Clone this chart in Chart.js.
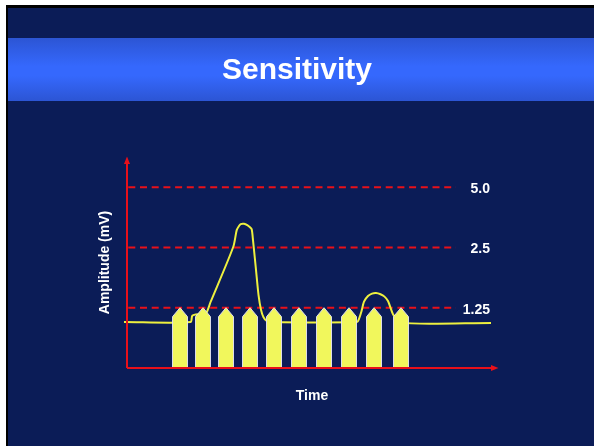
<!DOCTYPE html>
<html>
<head>
<meta charset="utf-8">
<script src="https://cdn.jsdelivr.net/npm/chart.js@4/dist/chart.umd.min.js"></script>
<style>
  html, body { margin: 0; padding: 0; background: #ffffff; }
  #c { display: block; }
</style>
</head>
<body>
<canvas id="c" width="594" height="446"></canvas>
<script>
// Stimulus pulses: time of each pulse and its peak amplitude (mV)
const pulseTimes = [53, 76, 99, 123, 147, 172, 197, 222, 247, 274];
const pulseAmplitudes = [1.25, 1.25, 1.25, 1.25, 1.25, 1.25, 1.25, 1.25, 1.25, 1.25];

// Sensed signal trace: time and amplitude (mV)
const signalTimes = [-3, 63.5, 65.3, 71, 78.5, 83.7, 106.3, 109.7, 112, 113.7, 117, 120.3, 123, 124.7,
  126, 129, 131.5, 134, 136.5, 140, 145, 230, 232, 234.5, 237, 241, 245, 249, 253.5, 257.5, 261, 264,
  266, 273, 364];
const signalValues = [1.06, 1.06, 1.14, 1.16, 1.16, 1.34, 2.52, 3.05, 3.2, 3.27, 3.28, 3.23, 3.15, 3.08,
  2.72, 1.93, 1.45, 1.22, 1.12, 1.07, 1.06, 1.06, 1.10, 1.20, 1.34, 1.43, 1.47, 1.48, 1.46, 1.42, 1.35, 1.23,
  1.16, 1.05, 1.05];

// Sensitivity thresholds (mV) and their labels
const thresholdValues = [5.0, 2.5, 1.25];
const thresholdLabels = ['5.0', '2.5', '1.25'];
const thresholdStart = 1.3;
const thresholdEnd = 329;

// Axis ranges
const timeMin = 0, timeMax = 370;
const ampMin = 0.625, ampMax = 7.071;

const FONT = "'Liberation Sans', Arial, Helvetica, sans-serif";
const NAVY = '#0b1c57';
const RED = '#e8101a';
const PULSE_FILL = '#f1f75c';
const TRACE = '#eef03e';

const backdrop = {
  id: 'backdrop',
  beforeDraw(chart) {
    const ctx = chart.ctx, w = chart.width, h = chart.height;
    ctx.save();
    ctx.fillStyle = '#ffffff';
    ctx.fillRect(0, 0, w, h);
    ctx.fillStyle = '#000000';
    ctx.fillRect(6, 5, w - 6, h - 5);
    ctx.fillStyle = NAVY;
    ctx.fillRect(8, 8, w - 8, h - 8);
    const g = ctx.createLinearGradient(0, 38, 0, 101);
    g.addColorStop(0, '#2c55d4');
    g.addColorStop(0.45, '#3568fd');
    g.addColorStop(0.6, '#3568fd');
    g.addColorStop(1, '#2c55d4');
    ctx.fillStyle = g;
    ctx.fillRect(8, 38, w - 8, 63);
    ctx.restore();
  }
};

const pulseShapes = {
  id: 'pulseShapes',
  afterDatasetsDraw(chart) {
    const ctx = chart.ctx;
    const meta = chart.getDatasetMeta(0);
    ctx.save();
    ctx.fillStyle = PULSE_FILL;
    ctx.strokeStyle = 'rgba(225,225,240,0.95)';
    ctx.lineWidth = 1;
    meta.data.forEach(bar => {
      const p = bar.getProps(['x', 'y', 'base', 'width'], true);
      const hw = p.width / 2, shoulder = 9;
      ctx.beginPath();
      ctx.moveTo(p.x - hw, p.base);
      ctx.lineTo(p.x - hw, p.y + shoulder);
      ctx.lineTo(p.x, p.y);
      ctx.lineTo(p.x + hw, p.y + shoulder);
      ctx.lineTo(p.x + hw, p.base);
      ctx.closePath();
      ctx.fill();
      ctx.stroke();
    });
    ctx.restore();
  },
  afterDraw(chart) {
    const ctx = chart.ctx, a = chart.chartArea;
    const ys = chart.scales.y;
    ctx.save();
    // axis lines with arrow heads
    ctx.strokeStyle = RED;
    ctx.fillStyle = RED;
    ctx.lineWidth = 2;
    ctx.beginPath();
    ctx.moveTo(a.left, a.bottom);
    ctx.lineTo(a.right - 4, a.bottom);
    ctx.moveTo(a.left, a.bottom);
    ctx.lineTo(a.left, a.top + 4);
    ctx.stroke();
    ctx.beginPath();
    ctx.moveTo(a.left, a.top - 0.5);
    ctx.lineTo(a.left - 3, a.top + 7);
    ctx.lineTo(a.left + 3, a.top + 7);
    ctx.closePath();
    ctx.fill();
    ctx.beginPath();
    ctx.moveTo(a.right + 1.5, a.bottom);
    ctx.lineTo(a.right - 6, a.bottom - 3);
    ctx.lineTo(a.right - 6, a.bottom + 3);
    ctx.closePath();
    ctx.fill();
    // threshold labels
    ctx.fillStyle = '#ffffff';
    ctx.font = 'bold 14px ' + FONT;
    ctx.textAlign = 'right';
    ctx.textBaseline = 'middle';
    ys.ticks.forEach(t => {
      const i = thresholdValues.indexOf(t.value);
      if (i < 0) return;
      ctx.fillText(thresholdLabels[i], a.right - 7, ys.getPixelForValue(t.value) + 2);
    });
    ctx.restore();
  }
};

const thresholdSets = thresholdValues.map(v => ({
  type: 'line',
  data: [{ x: thresholdStart, y: v }, { x: thresholdEnd, y: v }],
  borderColor: RED,
  borderWidth: 2,
  borderDash: [7, 4.7],
  pointRadius: 0,
  fill: false
}));

new Chart(document.getElementById('c'), {
  type: 'bar',
  data: {
    datasets: [
      {
        type: 'bar',
        data: pulseTimes.map((t, i) => ({ x: t, y: pulseAmplitudes[i] })),
        base: ampMin,
        barThickness: 15,
        backgroundColor: 'rgba(0,0,0,0)',
        borderWidth: 0
      },
      {
        type: 'line',
        data: signalTimes.map((t, i) => ({ x: t, y: signalValues[i] })),
        borderColor: TRACE,
        borderWidth: 2,
        pointRadius: 0,
        tension: 0.25,
        fill: false,
        clip: false
      },
      ...thresholdSets
    ]
  },
  options: {
    responsive: false,
    animation: false,
    events: [],
    layout: { padding: { left: 97, right: 97, top: 38, bottom: 41 } },
    plugins: {
      legend: { display: false },
      tooltip: { enabled: false },
      title: {
        display: true,
        text: 'Sensitivity',
        color: '#ffffff',
        font: { family: FONT, size: 30, weight: 'bold' },
        padding: { top: 15, bottom: 68 }
      }
    },
    scales: {
      x: {
        type: 'linear',
        min: timeMin,
        max: timeMax,
        offset: false,
        grid: { display: false, offset: false },
        border: { display: false },
        ticks: { display: false },
        title: {
          display: true,
          text: 'Time',
          color: '#ffffff',
          font: { family: FONT, size: 14, weight: 'bold' },
          padding: 0
        },
        afterFit(s) { s.height = 37; }
      },
      y: {
        type: 'logarithmic',
        bounds: 'data',
        beginAtZero: false,
        min: ampMin,
        max: ampMax,
        grid: { display: false },
        border: { display: false },
        ticks: { display: false },
        afterBuildTicks(s) { s.ticks = thresholdValues.map(v => ({ value: v })); },
        title: {
          display: true,
          text: 'Amplitude (mV)',
          color: '#ffffff',
          font: { family: FONT, size: 14, weight: 'bold' },
          padding: 0
        },
        afterFit(s) { s.width = 30; }
      }
    }
  },
  plugins: [backdrop, pulseShapes]
});
</script>
</body>
</html>
